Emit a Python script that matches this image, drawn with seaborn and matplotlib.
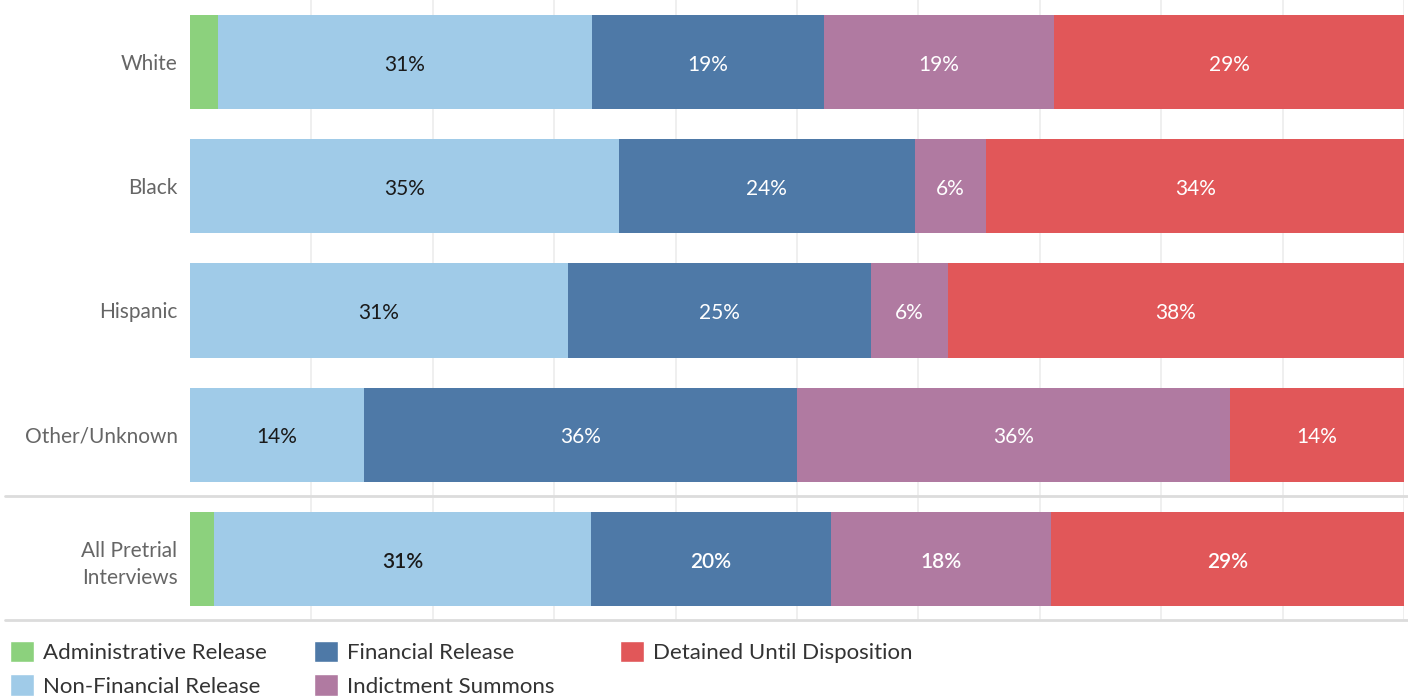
import numpy as np
import pandas as pd
import matplotlib
matplotlib.use('Agg')
import matplotlib.pyplot as plt
import seaborn as sns
from matplotlib.lines import Line2D
from matplotlib.patches import Patch

# Dados do gráfico (percentuais)
grupos = ['White', 'Black', 'Hispanic', 'Other/Unknown', 'All Pretrial\nInterviews']
categorias = ['Administrative Release', 'Non-Financial Release', 'Financial Release',
              'Indictment Summons', 'Detained Until Disposition']
administrativa = [2.3, 0.0, 0.0, 0.0, 2.0]
nao_financeira = [30.8, 35.3, 31.1, 14.3, 31.0]
financeira = [19.1, 24.4, 25.0, 35.7, 19.8]
indiciamento = [19.0, 5.9, 6.3, 35.7, 18.1]
detido = [28.8, 34.4, 37.6, 14.3, 29.1]

cores = ['#8CD17D', '#A0CBE8', '#4E79A7', '#B07AA1', '#E15759']
cor_texto = ['black', '#1a1a1a', 'white', 'white', 'white']

sns.set_theme(style='white')
plt.rcParams['font.family'] = ['Lato', 'DejaVu Sans']

dados = pd.DataFrame({'grupo': grupos,
                      categorias[0]: administrativa,
                      categorias[1]: nao_financeira,
                      categorias[2]: financeira,
                      categorias[3]: indiciamento,
                      categorias[4]: detido})
acumulado = dados[categorias].cumsum(axis=1)

fig = plt.figure(figsize=(14.08, 6.98), dpi=100)
ax = fig.add_axes([190 / 1408, 1 - 621 / 698, 1214 / 1408, 621 / 698])

# Linhas de grade verticais
for xg in np.arange(10, 101, 10):
    ax.axvline(xg, color='#ececec', lw=1.2, zorder=0)

# Barras empilhadas: desenha do total acumulado para o primeiro
for i in range(len(categorias) - 1, -1, -1):
    sns.barplot(x=acumulado[categorias[i]], y=dados['grupo'], color=cores[i],
                orient='h', width=0.76, saturation=1, linewidth=0, ax=ax, zorder=2)

# Rótulos de percentual
for r, g in enumerate(grupos):
    esquerda = 0
    for i, c in enumerate(categorias):
        v = dados.loc[r, c]
        if v >= 3:
            peso = 'semibold' if r == len(grupos) - 1 else 'normal'
            ax.text(esquerda + v / 2, r + 0.022, f'{round(v)}%', ha='center', va='center',
                    fontsize=15, color=cor_texto[i], fontweight=peso, zorder=3)
        esquerda += v

ax.set_xlim(0, 100)
ax.set_ylim(4.5, -0.5)
ax.set_xlabel('')
ax.set_ylabel('')
ax.set_xticks([])
ax.tick_params(axis='y', length=0, pad=9, labelsize=15, labelcolor='#666666')
for rot in ax.get_yticklabels():
    rot.set_linespacing(1.45)
for lado in ax.spines.values():
    lado.set_visible(False)

# Separadores horizontais
for yp in [496, 620]:
    fig.add_artist(Line2D([5 / 1408, 1], [1 - yp / 698, 1 - yp / 698],
                          color='#dcdcdc', lw=2))

# Legenda em três colunas, posicionadas como no original
colunas = [[0, 1], [2, 3], [4]]
inicio_x = [10, 314, 620]
for idx, xs in zip(colunas, inicio_x):
    alcas = [Patch(facecolor=cores[i], label=categorias[i]) for i in idx]
    leg = fig.legend(handles=alcas, loc='upper left',
                     bbox_to_anchor=(xs / 1408, 1 - 641 / 698),
                     ncol=1, frameon=False, fontsize=16, handlelength=1.1,
                     handleheight=1.1, handletextpad=0.38, labelspacing=0.5,
                     labelcolor='#333333', borderpad=0, borderaxespad=0)

fig.savefig('out.png', dpi=100)
